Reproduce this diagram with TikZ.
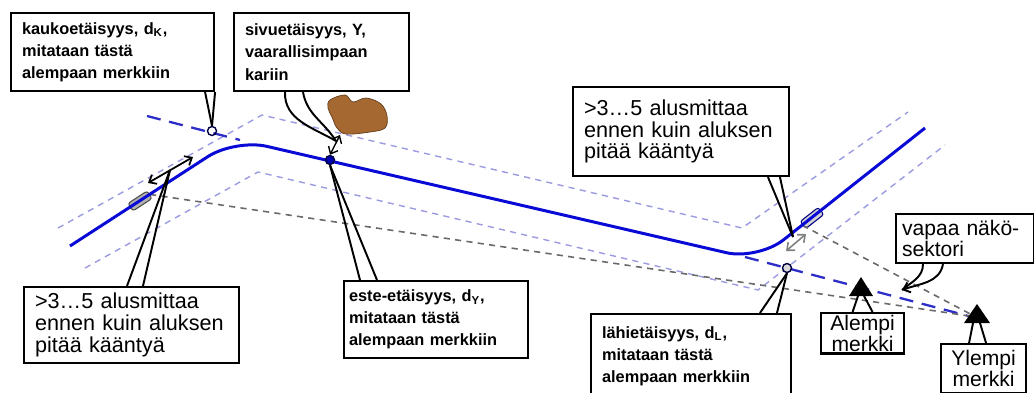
\documentclass[tikz,border=0pt]{standalone}
\usepackage{fontspec}
\setmainfont{Liberation Sans}
\usetikzlibrary{arrows.meta}

\definecolor{routeblue}{RGB}{10,10,215}
\definecolor{edgecol}{RGB}{155,155,225}
\definecolor{leadblue}{RGB}{45,45,200}
\definecolor{sightgray}{RGB}{105,105,105}
\definecolor{rockcol}{RGB}{165,104,48}

\tikzset{
  callout/.style={draw, fill=white, line width=1.2pt, anchor=north west, align=left, inner xsep=0.22cm, inner ysep=0pt},
  bigtext/.style={font=\fontsize{12.3}{12.4}\selectfont},
  marktext/.style={font=\fontsize{12}{11}\selectfont},
  smalltext/.style={font=\bfseries\fontsize{9.3}{12.6}\selectfont},
  route/.style={routeblue, line width=1.7pt},
  edge/.style={edgecol, line width=0.8pt, dash pattern=on 3.5pt off 3pt},
  lead/.style={leadblue, line width=1.3pt, dash pattern=on 8pt off 5pt},
  sight/.style={sightgray, line width=0.9pt, dash pattern=on 3.5pt off 3pt},
  ship/.style={rectangle, rounded corners=1.5pt, draw=gray!60!black, fill=gray!60, line width=0.6pt, minimum width=0.46cm, minimum height=0.18cm, inner sep=0pt},
  fixpt/.style={circle, draw=blue!25!black, line width=0.8pt, inner sep=0pt, minimum size=0.18cm},
  barbs/.style={{Straight Barb[length=3.5pt,width=6pt]}-{Straight Barb[length=3.5pt,width=6pt]}},
  leg/.style={line width=1.1pt}
}

\begin{document}
\begin{tikzpicture}[x=0.02cm,y=-0.02cm]
\useasboundingbox (0,0) rectangle (1034,392);

% fairway edges
\draw[edge] (58,228) -- (262,115) -- (742,228) -- (908,112);
\draw[edge] (85,268) -- (258,172) -- (758,290) -- (945,145);

% leading line
\draw[lead] (147,116) -- (240,140);
\draw[lead] (745,257) -- (976,318);

% ships and sight lines
\node[ship,rotate=33] (lship) at (140,201) {};
\node[ship,rotate=38,fill=gray!35,draw=blue!50!black] (rship) at (812,218) {};
\coordinate (ytop) at (976,317);
\draw[sight] (lship.east) -- (ytop);
\draw[sight] (rship.west) -- (ytop);

% route
\draw[route, rounded corners=0.65cm] (70,246) -- (235,139) -- (758,260) -- (925,128);

% fixes
\node[fixpt] (kfix) at (212,131) {};
\node[fixpt,fill=blue!70!black] (yfix) at (330,160) {};
\node[fixpt,fill=gray!30] (lfix) at (787,268) {};

% rock
\filldraw[fill=rockcol, draw=rockcol!60!black, line width=0.4pt] plot[smooth cycle, tension=0.6] coordinates {(330,100) (345,95) (353,102) (366,98) (381,104) (387,116) (385,128) (370,132) (346,134) (337,128) (332,117) (328,108)};
\coordinate (rockfoot) at (340,135);
\draw[barbs, line width=0.8pt] (rockfoot) -- (yfix.north);

% turning distances
\coordinate (aw1) at (148,183);
\coordinate (aw2) at (193,157);
\draw[barbs, line width=1pt] (aw1) -- (aw2);
\coordinate (gw1) at (786,251);
\coordinate (gw2) at (806,234);
\draw[barbs, gray, line width=0.9pt] (gw1) -- (gw2);

% marks
\fill (849,296) -- (861,277) -- (873,296) -- cycle;
\coordinate (abase) at (861,296);
\fill (964,323) -- (977,304) -- (990,323) -- cycle;
\coordinate (ybase) at (977,323);

% callouts
\node[callout, smalltext, text width=3.62cm, minimum height=1.56cm] (kauko) at (10,12) {kaukoetäisyys, d\textsubscript{K},\\mitataan tästä\\alempaan merkkiin};
\node[callout, smalltext, text width=3.06cm, minimum height=1.56cm] (sivu) at (233,12) {sivuetäisyys, Y,\\vaarallisimpaan\\kariin};
\node[callout, bigtext, text width=3.86cm, minimum height=1.52cm] (alus1) at (23,286) {>3…5 alusmittaa\\ennen kuin aluksen\\pitää kääntyä};
\node[callout, smalltext, inner xsep=0.1cm, text width=3.48cm, minimum height=1.54cm] (este) at (343,280) {este-etäisyys, d\textsubscript{Y},\\mitataan tästä\\alempaan merkkiin};
\node[callout, bigtext, text width=3.88cm, minimum height=1.78cm] (alus2) at (572,86) {>3…5 alusmittaa\\ennen kuin aluksen\\pitää kääntyä};
\node[callout, smalltext, text width=3.56cm, minimum height=1.68cm] (lahi) at (590,313) {lähietäisyys, d\textsubscript{L},\\mitataan tästä\\alempaan merkkiin};
\node[callout, marktext, inner xsep=0.12cm, text width=2.52cm, minimum height=0.98cm] (vapaa) at (895,213) {\mbox{vapaa näkö-}\\sektori};
\node[callout, marktext, align=center, inner xsep=0.1cm, inner ysep=1pt, text width=1.46cm, minimum height=0.8cm] (alempi) at (820,312) {Alempi\\merkki};
\node[callout, marktext, align=center, inner xsep=0.1cm, text width=1.5cm, minimum height=0.98cm] (ylempi) at (940,343) {Ylempi\\merkki};

% pointers
\draw[leg] ([xshift=-0.2cm]kauko.south east) -- (kfix.north);
\draw[leg] (kauko.south east) -- (kfix.north);
\coordinate (stip) at (336,141);
\draw[leg] ([xshift=1.04cm]sivu.south west) to[out=-92,in=150] (stip);
\draw[leg] ([xshift=1.4cm]sivu.south west) to[out=-80,in=122] (stip);
\coordinate (atip) at (170,170);
\draw[leg] ([xshift=2.08cm]alus1.north west) -- (atip);
\draw[leg] ([xshift=2.4cm]alus1.north west) -- (atip);
\draw[leg] ([xshift=0.34cm]este.north west) -- (yfix.south);
\draw[leg] ([xshift=0.68cm]este.north west) -- (yfix.south);
\coordinate (btip) at (793,237);
\draw[leg] ([xshift=3.92cm]alus2.south west) -- (btip);
\draw[leg] ([xshift=4.16cm]alus2.south west) -- (btip);
\draw[leg] ([xshift=3.4cm]lahi.north west) -- (lfix.south);
\draw[leg] ([xshift=3.74cm]lahi.north west) -- (lfix.south);
\coordinate (vtip) at (902,290);
\draw[leg] ([xshift=0.56cm]vapaa.south west) to[out=-90,in=40] (vtip);
\draw[leg, -{Straight Barb[length=3.5pt,width=6pt]}] ([xshift=0.96cm]vapaa.south west) to[out=-100,in=20] (vtip);
\draw[leg] ([xshift=-0.06cm]abase) -- ([xshift=-0.2cm]alempi.north);
\draw[leg] ([xshift=0.06cm]abase) -- ([xshift=0.2cm]alempi.north);
\draw[leg] ([xshift=-0.08cm]ybase) -- ([xshift=-0.29cm]ylempi.north);
\draw[leg] ([xshift=0.06cm]ybase) -- ([xshift=0.05cm]ylempi.north);
\end{tikzpicture}
\end{document}
